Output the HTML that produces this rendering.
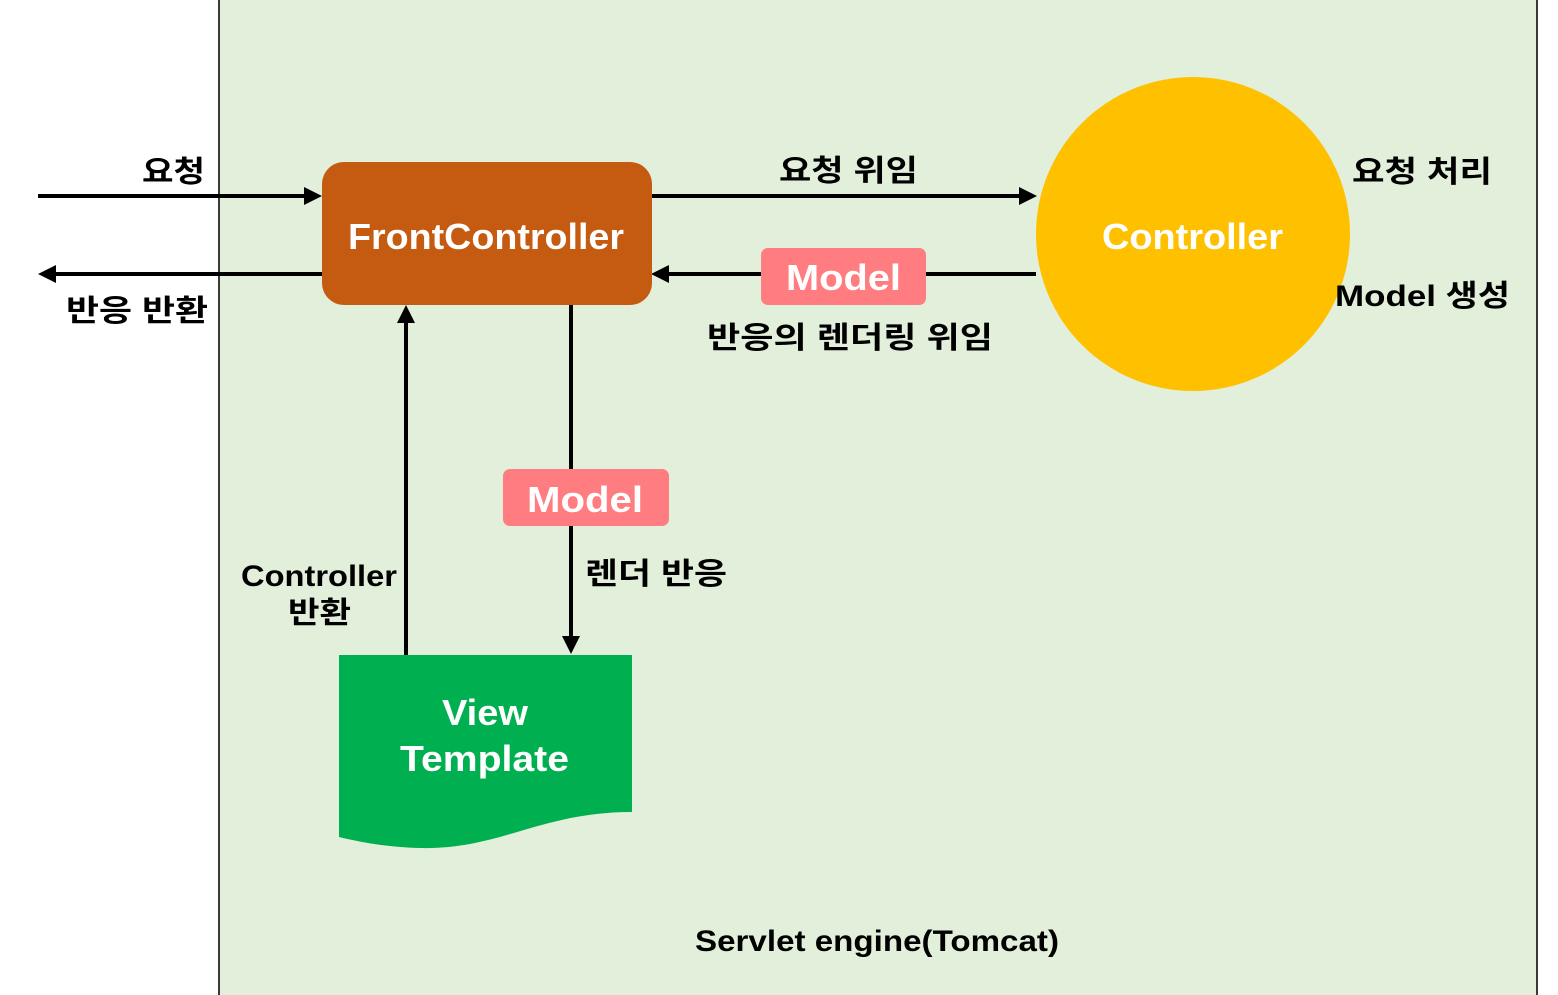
<!DOCTYPE html>
<html><head><meta charset="utf-8"><style>
html,body{margin:0;padding:0;background:#fff;}
svg{display:block;}
text{font-family:"Liberation Sans","Noto Sans CJK KR",sans-serif;font-weight:bold;}
</style></head><body>
<svg width="1558" height="995" viewBox="0 0 1558 995" xmlns="http://www.w3.org/2000/svg">
<rect x="219" y="-2" width="1318" height="1000" fill="#e2efda" stroke="#3a3a3a" stroke-width="2"/>
<g stroke="#000" stroke-width="4" fill="none">
<line x1="38" y1="196" x2="306" y2="196"/>
<line x1="652" y1="196" x2="1020" y2="196"/>
<line x1="1036" y1="274" x2="668" y2="274"/>
<line x1="322" y1="274" x2="56" y2="274"/>
<line x1="571" y1="305" x2="571" y2="638"/>
<line x1="406" y1="656" x2="406" y2="322"/>
</g>
<g fill="#000">
<polygon points="322,196 304,187 304,205"/>
<polygon points="1037,196 1019,187 1019,205"/>
<polygon points="651,274 669,265 669,283"/>
<polygon points="38,274 56,265 56,283"/>
<polygon points="571,654 562,636 580,636"/>
<polygon points="406,305 397,323 415,323"/>
</g>
<rect x="322" y="162" width="330" height="143" rx="22" fill="#c55a11"/>
<text x="348" y="249" font-size="36" fill="#fff" textLength="276" lengthAdjust="spacingAndGlyphs">FrontController</text>
<circle cx="1193" cy="234" r="157" fill="#ffc000"/>
<text x="1102" y="249" font-size="36" fill="#fff" textLength="181" lengthAdjust="spacingAndGlyphs">Controller</text>
<rect x="761" y="248" width="165" height="57" rx="7" fill="#ff7c80"/>
<text x="786" y="290" font-size="36" fill="#fff" textLength="115" lengthAdjust="spacingAndGlyphs">Model</text>
<rect x="503" y="469" width="166" height="57" rx="7" fill="#ff7c80"/>
<text x="527" y="512" font-size="36" fill="#fff" textLength="116" lengthAdjust="spacingAndGlyphs">Model</text>
<path d="M339,655 L632,655 L632,812 C540,812 500,850 420,848 C385,847 360,842 339,837 Z" fill="#00b050"/>
<text x="442" y="725" font-size="36" fill="#fff" textLength="86" lengthAdjust="spacingAndGlyphs">View</text>
<text x="400" y="771" font-size="36" fill="#fff" textLength="169" lengthAdjust="spacingAndGlyphs">Template</text>
<g font-size="30" fill="#000">
<text x="142" y="182" textLength="63" lengthAdjust="spacingAndGlyphs">요청</text>
<text x="66" y="321" textLength="142" lengthAdjust="spacingAndGlyphs">반응 반환</text>
<text x="779" y="181" textLength="139" lengthAdjust="spacingAndGlyphs">요청 위임</text>
<text x="1352" y="182" textLength="140" lengthAdjust="spacingAndGlyphs">요청 처리</text>
<text x="1335" y="306" textLength="175" lengthAdjust="spacingAndGlyphs">Model 생성</text>
<text x="707" y="348" textLength="286" lengthAdjust="spacingAndGlyphs">반응의 렌더링 위임</text>
<text x="585" y="584" textLength="142" lengthAdjust="spacingAndGlyphs">렌더 반응</text>
<text x="241" y="586" textLength="156" lengthAdjust="spacingAndGlyphs">Controller</text>
<text x="288" y="623" textLength="63" lengthAdjust="spacingAndGlyphs">반환</text>
<text x="695" y="951" textLength="364" lengthAdjust="spacingAndGlyphs">Servlet engine(Tomcat)</text>
</g>
</svg>
</body></html>
